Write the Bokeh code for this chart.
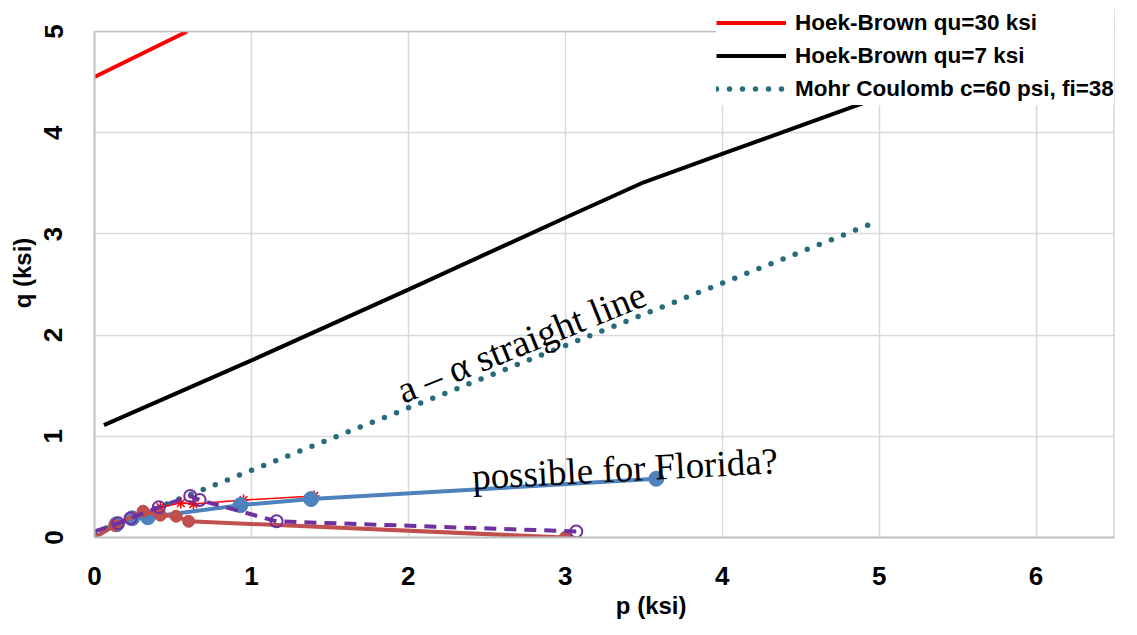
from bokeh.plotting import figure
from bokeh.models import Range1d, Legend, LegendItem, Label, FixedTicker, BoxAnnotation, Span
from bokeh.embed import file_html
from bokeh.resources import INLINE

# ---- data ----
hb30_p = [0.0, 0.59]
hb30_q = [4.55, 5.0]

hb7_p = [0.06, 1.0, 2.0, 3.0, 3.5, 4.0, 5.0]
hb7_q = [1.11, 1.75, 2.45, 3.16, 3.51, 3.79, 4.35]

mc_p = [0.0, 5.0]
mc_q = [0.047, 3.13]

blue_p = [0.0, 0.14, 0.24, 0.34, 0.93, 1.38, 3.58]
blue_q = [0.0, 0.13, 0.19, 0.20, 0.32, 0.38, 0.58]

dred_p = [0.0, 0.13, 0.31, 0.42, 0.52, 0.60, 3.0]
dred_q = [0.0, 0.12, 0.26, 0.22, 0.21, 0.16, 0.0]

purple_p = [0.0, 0.15, 0.23, 0.41, 0.61, 0.67, 1.16, 3.07]
purple_q = [0.06, 0.14, 0.19, 0.30, 0.41, 0.37, 0.16, 0.06]

star_p = [0.42, 0.55, 0.63, 0.95, 1.40]
star_q = [0.30, 0.34, 0.33, 0.37, 0.41]

x_ticks = [0, 1, 2, 3, 4, 5, 6]
y_ticks = [0, 1, 2, 3, 4, 5]
X_MAX = 6.5
Y_MAX = 5

SANS = "Liberation Sans"
SERIF = "Liberation Serif"

# plot area is 1020 x 506 px for p 0..6.5, q 0..5; 23 px of headroom above q=5 holds the legend
FRAME_H = 529
y_top = Y_MAX * FRAME_H / 506

p = figure(frame_width=1020, frame_height=FRAME_H,
           x_range=Range1d(0, X_MAX), y_range=Range1d(0, y_top),
           output_backend="svg", toolbar_location=None,
           min_border_left=94, min_border_right=7,
           min_border_top=8, min_border_bottom=82)

p.outline_line_color = None
p.grid.grid_line_color = "#D9D9D9"
p.grid.grid_line_width = 1.5

p.xaxis.ticker = FixedTicker(ticks=x_ticks)
p.yaxis.ticker = FixedTicker(ticks=y_ticks)
p.yaxis.bounds = (0, Y_MAX)
for ax in (p.xaxis, p.yaxis):
    ax.axis_line_color = "#BFBFBF"
    ax.axis_line_width = 2
    ax.major_tick_line_color = None
    ax.minor_tick_line_color = None
    ax.major_label_text_font = SANS
    ax.major_label_text_font_style = "bold"
    ax.major_label_text_font_size = "26px"
    ax.major_label_text_color = "black"
    ax.axis_label_text_font = SANS
    ax.axis_label_text_font_style = "bold"
    ax.axis_label_text_font_size = "24px"
    ax.axis_label_text_color = "black"
p.xaxis.major_label_standoff = 23
p.yaxis.major_label_standoff = 26
p.yaxis.major_label_orientation = "vertical"
p.yaxis.axis_label = "q (ksi)"
p.yaxis.axis_label_standoff = 6
p.xaxis.axis_label = "\u00a0" * 14 + "p (ksi)"
p.xaxis.axis_label_standoff = 4

# reference lines
r_hb30 = p.line(hb30_p, hb30_q, line_color="#FF0000", line_width=4)
r_hb7 = p.line(hb7_p, hb7_q, line_color="black", line_width=4)
r_mc = p.line(mc_p, mc_q, line_color="#286B7B", line_width=5.5,
              line_dash="0 13", line_cap="round")

# test data series
p.line(star_p, star_q, line_color="#FF0000", line_width=1.5)
p.scatter(star_p, star_q, marker="asterisk", size=11, line_color="#FF0000", line_width=1.5)

p.line(blue_p, blue_q, line_color="#4F81BD", line_width=4)
p.scatter(blue_p[1:], blue_q[1:], size=15, fill_color="#4F81BD", line_color="#4F81BD")

p.line(dred_p, dred_q, line_color="#C0504D", line_width=4)
p.scatter(dred_p[1:], dred_q[1:], size=12, fill_color="#C0504D", line_color="#C0504D")

p.line(purple_p, purple_q, line_color="#7030A0", line_width=4, line_dash="12 8")
p.scatter(purple_p[1:], purple_q[1:], size=12, fill_color=None, line_color="#7030A0", line_width=2)

# blank headroom above q=5 and the plot-area border
p.add_layout(BoxAnnotation(bottom=Y_MAX, fill_color="white", fill_alpha=1.0, line_color=None))
p.add_layout(Span(location=Y_MAX, dimension="width", line_color="#BFBFBF", line_width=1.5))
p.add_layout(Span(location=X_MAX, dimension="height", line_color="#BFBFBF", line_width=2))

legend = Legend(items=[
    LegendItem(label="Hoek-Brown qu=30 ksi", renderers=[r_hb30]),
    LegendItem(label="Hoek-Brown qu=7 ksi", renderers=[r_hb7]),
    LegendItem(label="Mohr Coulomb c=60 psi, fi=38", renderers=[r_mc]),
], location=(622, 432))
legend.label_text_font = SANS
legend.label_text_font_style = "bold"
legend.label_text_font_size = "22.5px"
legend.label_text_color = "black"
legend.glyph_width = 70
legend.glyph_height = 33
legend.label_height = 33
legend.label_standoff = 9
legend.spacing = 0
legend.padding = 8
legend.margin = 0
legend.border_line_color = None
legend.background_fill_color = "white"
legend.background_fill_alpha = 1.0
p.add_layout(legend)

p.add_layout(Label(x=2.72, y=1.93, text="a \u2013 \u03b1 straight line", angle=22, angle_units="deg",
                   text_font=SERIF, text_font_size="38px",
                   text_align="center", text_baseline="alphabetic", text_color="black"))
p.add_layout(Label(x=3.38, y=0.68, text="possible for Florida?", angle=3, angle_units="deg",
                   text_font=SERIF, text_font_size="37px",
                   text_align="center", text_baseline="alphabetic", text_color="black"))

open("out.html", "w").write(file_html(p, INLINE))
